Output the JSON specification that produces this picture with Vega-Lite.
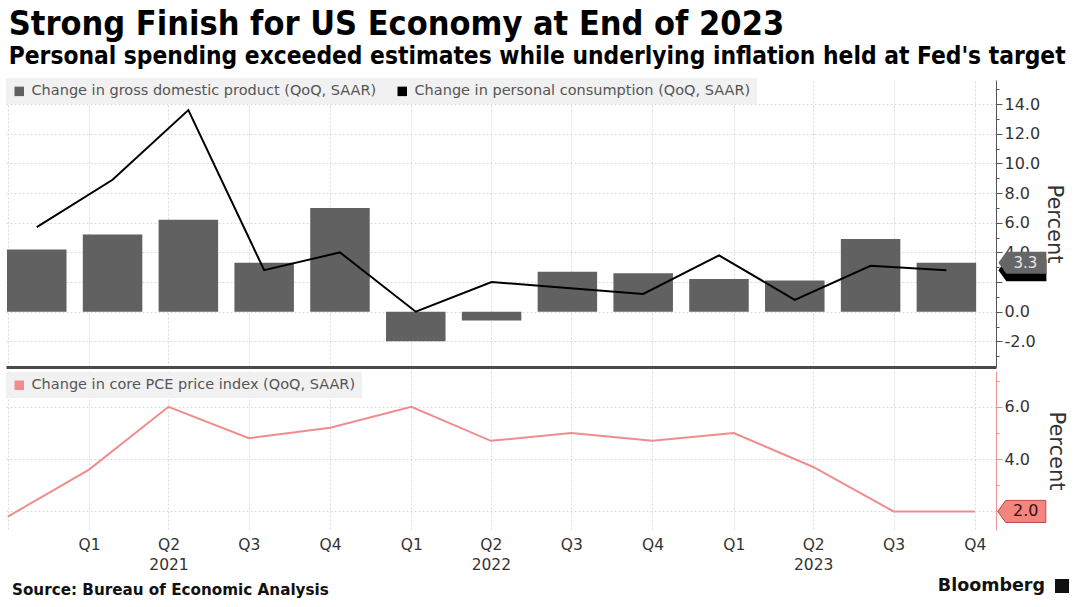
{
  "$schema": "https://vega.github.io/schema/vega-lite/v6.json",
  "background": "white",
  "padding": {"left": 3, "top": 7, "right": 0, "bottom": 0},
  "title": {
    "text": "Strong Finish for US Economy at End of 2023",
    "subtitle": "Personal spending exceeded estimates while underlying inflation held at Fed's target",
    "anchor": "start",
    "dx": 5,
    "font": "DejaVu Sans Condensed",
    "fontSize": 34,
    "fontWeight": "bold",
    "color": "#000000",
    "subtitleFont": "DejaVu Sans Condensed",
    "subtitleFontSize": 24.3,
    "subtitleFontWeight": "bold",
    "subtitleColor": "#000000",
    "subtitlePadding": 3,
    "offset": 9
  },
  "data": {
    "values": [
      {"date": "2020-10-01", "q": "2020 Q4", "gdp": 4.2, "cons": 5.7, "core": 1.8},
      {"date": "2021-01-01", "q": "2021 Q1", "gdp": 5.2, "cons": 8.9, "core": 3.6},
      {"date": "2021-04-01", "q": "2021 Q2", "gdp": 6.2, "cons": 13.6, "core": 6.0},
      {"date": "2021-07-01", "q": "2021 Q3", "gdp": 3.3, "cons": 2.8, "core": 4.8},
      {"date": "2021-10-01", "q": "2021 Q4", "gdp": 7.0, "cons": 4.0, "core": 5.2},
      {"date": "2022-01-01", "q": "2022 Q1", "gdp": -2.0, "cons": 0.0, "core": 6.0},
      {"date": "2022-04-01", "q": "2022 Q2", "gdp": -0.6, "cons": 2.0, "core": 4.7},
      {"date": "2022-07-01", "q": "2022 Q3", "gdp": 2.7, "cons": 1.6, "core": 5.0},
      {"date": "2022-10-01", "q": "2022 Q4", "gdp": 2.6, "cons": 1.2, "core": 4.7},
      {"date": "2023-01-01", "q": "2023 Q1", "gdp": 2.2, "cons": 3.8, "core": 5.0},
      {"date": "2023-04-01", "q": "2023 Q2", "gdp": 2.1, "cons": 0.8, "core": 3.7},
      {"date": "2023-07-01", "q": "2023 Q3", "gdp": 4.9, "cons": 3.1, "core": 2.0},
      {"date": "2023-10-01", "q": "2023 Q4", "gdp": 3.3, "cons": 2.8, "core": 2.0}
    ]
  },
  "spacing": 4,
  "resolve": {"scale": {"color": "independent"}, "legend": {"color": "independent"}},
  "vconcat": [
    {
      "width": 990,
      "height": 287,
      "resolve": {"scale": {"x": "independent"}, "axis": {"x": "independent"}},
      "layer": [
        {
          "mark": {"type": "point", "opacity": 0},
          "encoding": {
            "x": {
              "field": "date",
              "type": "temporal",
              "scale": {"domain": [{"year": 2020, "month": 9, "date": 29, "utc": true}, {"year": 2023, "month": 10, "date": 25, "utc": true}]},
              "axis": {
                "orient": "bottom",
                "title": null,
                "tickCount": 100,
                "values": [
                  {"year": 2020, "month": 10, "date": 1, "utc": true},
                  {"year": 2021, "month": 1, "date": 1, "utc": true},
                  {"year": 2021, "month": 4, "date": 1, "utc": true},
                  {"year": 2021, "month": 7, "date": 1, "utc": true},
                  {"year": 2021, "month": 10, "date": 1, "utc": true},
                  {"year": 2022, "month": 1, "date": 1, "utc": true},
                  {"year": 2022, "month": 4, "date": 1, "utc": true},
                  {"year": 2022, "month": 7, "date": 1, "utc": true},
                  {"year": 2022, "month": 10, "date": 1, "utc": true},
                  {"year": 2023, "month": 1, "date": 1, "utc": true},
                  {"year": 2023, "month": 4, "date": 1, "utc": true},
                  {"year": 2023, "month": 7, "date": 1, "utc": true},
                  {"year": 2023, "month": 10, "date": 1, "utc": true}
                ],
                "grid": true,
                "gridColor": "#dadada",
                "gridDash": [2, 2],
                "labels": false,
                "ticks": false,
                "domain": true,
                "domainColor": "#4a4a4a",
                "domainWidth": 3
              }
            }
          }
        },
        {
          "encoding": {
            "x": {
              "field": "q",
              "type": "ordinal",
              "scale": {"paddingInner": 0.215, "paddingOuter": 0.1375, "align": 0.048},
              "axis": null
            }
          },
          "layer": [
            {
              "mark": {"type": "bar", "color": "#616161"},
              "encoding": {
                "y": {
                  "field": "gdp",
                  "type": "quantitative",
                  "scale": {"domain": [-3.73, 15.63], "nice": false, "zero": false},
                  "axis": {
                    "orient": "right",
                    "title": "Percent",
                    "tickCount": 100,
                    "values": [-3, -2, -1, 0, 1, 2, 3, 4, 5, 6, 7, 8, 9, 10, 11, 12, 13, 14, 15],
                    "labelExpr": "datum.value % 2 == 0 && datum.value != 2 ? (datum.value < 0 ? '-' + format(-datum.value, '.1f') : format(datum.value, '.1f')) : ''",
                    "grid": true,
                    "gridColor": "#dadada",
                    "gridDash": [2, 2],
                    "gridOpacity": {"condition": {"test": "datum.value % 2 == 0", "value": 1}, "value": 0},
                    "tickSize": {"condition": {"test": "datum.value % 2 == 0", "value": 6}, "value": 3},
                    "tickColor": "#555555",
                    "domainColor": "#555555",
                    "labelColor": "#333333",
                    "labelFontSize": 16,
                    "labelPadding": 2,
                    "labelOverlap": false,
                    "titleFontSize": 21,
                    "titleFontWeight": "normal",
                    "titleColor": "#333333",
                    "titlePadding": 4
                  }
                },
                "color": {
                  "datum": "Change in gross domestic product (QoQ, SAAR)",
                  "type": "nominal",
                  "scale": {
                    "domain": ["Change in gross domestic product (QoQ, SAAR)", "Change in personal consumption (QoQ, SAAR)"],
                    "range": ["#616161", "#000000"]
                  },
                  "legend": {
                    "orient": "none",
                    "legendX": 0,
                    "legendY": -2,
                    "direction": "horizontal",
                    "title": null,
                    "symbolType": "square",
                    "symbolSize": 90,
                    "symbolStrokeWidth": 0,
                    "labelFontSize": 14.5,
                    "labelColor": "#555555",
                    "labelLimit": 600,
                    "fillColor": "#f1f1f1",
                    "padding": 6,
                    "columnPadding": 18,
                    "labelOffset": 5
                  }
                }
              }
            },
            {
              "mark": {"type": "line", "color": "#000000", "strokeWidth": 2},
              "encoding": {
                "y": {"field": "cons", "type": "quantitative", "scale": {"domain": [-3.73, 15.63], "nice": false, "zero": false}}
              }
            },
            {
              "transform": [{"filter": "datum.q == '2023 Q4'"}],
              "mark": {"type": "point", "shape": "M-1,0L-0.67,-0.46L1,-0.46L1,0.46L-0.67,0.46Z", "size": 2304, "filled": true, "color": "#000000", "opacity": 1, "xOffset": 76},
              "encoding": {
                "y": {"field": "cons", "type": "quantitative", "scale": {"domain": [-3.73, 15.63], "nice": false, "zero": false}}
              }
            },
            {
              "transform": [{"filter": "datum.q == '2023 Q4'"}],
              "mark": {"type": "point", "shape": "M-1,0L-0.67,-0.46L1,-0.46L1,0.46L-0.67,0.46Z", "size": 2304, "filled": true, "color": "#666666", "opacity": 1, "xOffset": 76},
              "encoding": {
                "y": {"field": "gdp", "type": "quantitative", "scale": {"domain": [-3.73, 15.63], "nice": false, "zero": false}}
              }
            },
            {
              "transform": [{"filter": "datum.q == '2023 Q4'"}],
              "mark": {"type": "text", "color": "#e4e4e4", "fontSize": 15, "xOffset": 79, "align": "center", "baseline": "middle"},
              "encoding": {
                "y": {"field": "gdp", "type": "quantitative", "scale": {"domain": [-3.73, 15.63], "nice": false, "zero": false}},
                "text": {"field": "gdp", "type": "quantitative", "format": ".1f"}
              }
            }
          ]
        }
      ]
    },
    {
      "width": 990,
      "height": 159,
      "layer": [
        {
          "mark": {"type": "line", "strokeWidth": 2},
          "encoding": {
            "x": {
              "field": "date",
              "type": "temporal",
              "scale": {"domain": [{"year": 2020, "month": 9, "date": 29, "utc": true}, {"year": 2023, "month": 10, "date": 25, "utc": true}]},
              "axis": {
                "orient": "bottom",
                "title": null,
                "tickCount": 100,
                "values": [
                  {"year": 2020, "month": 10, "date": 1, "utc": true},
                  {"year": 2021, "month": 1, "date": 1, "utc": true},
                  {"year": 2021, "month": 4, "date": 1, "utc": true},
                  {"year": 2021, "month": 7, "date": 1, "utc": true},
                  {"year": 2021, "month": 10, "date": 1, "utc": true},
                  {"year": 2022, "month": 1, "date": 1, "utc": true},
                  {"year": 2022, "month": 4, "date": 1, "utc": true},
                  {"year": 2022, "month": 7, "date": 1, "utc": true},
                  {"year": 2022, "month": 10, "date": 1, "utc": true},
                  {"year": 2023, "month": 1, "date": 1, "utc": true},
                  {"year": 2023, "month": 4, "date": 1, "utc": true},
                  {"year": 2023, "month": 7, "date": 1, "utc": true},
                  {"year": 2023, "month": 10, "date": 1, "utc": true}
                ],
                "labelExpr": "utcFormat(datum.value, '%Y') == '2020' ? '' : ['Q' + utcFormat(datum.value, '%q'), utcFormat(datum.value, '%q') == '2' ? utcFormat(datum.value, '%Y') : '']",
                "grid": true,
                "gridColor": "#dadada",
                "gridDash": [2, 2],
                "ticks": false,
                "domain": false,
                "labelColor": "#333333",
                "labelFontSize": 15.5,
                "labelLineHeight": 20,
                "labelPadding": 7,
                "labelOverlap": false,
                "labelFlush": false
              }
            },
            "y": {
              "field": "core",
              "type": "quantitative",
              "scale": {"domain": [1.29, 7.37], "nice": false, "zero": false},
              "axis": {
                "orient": "right",
                "title": "Percent",
                "tickCount": 100,
                "values": [2, 3, 4, 5, 6, 7],
                "labelExpr": "datum.value % 2 == 0 && datum.value != 2 ? format(datum.value, '.1f') : ''",
                "grid": true,
                "gridColor": "#dadada",
                "gridDash": [2, 2],
                "gridOpacity": {"condition": {"test": "datum.value % 2 == 0", "value": 1}, "value": 0},
                "tickSize": {"condition": {"test": "datum.value % 2 == 0", "value": 6}, "value": 3},
                "tickColor": "#f09090",
                "domainColor": "#f09090",
                "labelColor": "#333333",
                "labelFontSize": 16,
                "labelPadding": 2,
                "labelOverlap": false,
                "titleFontSize": 21,
                "titleFontWeight": "normal",
                "titleColor": "#333333",
                "titlePadding": 16
              }
            },
            "color": {
              "datum": "Change in core PCE price index (QoQ, SAAR)",
              "type": "nominal",
              "scale": {"range": ["#f08c8c"]},
              "legend": {
                "orient": "none",
                "legendX": 0,
                "legendY": 1,
                "title": null,
                "symbolType": "square",
                "symbolSize": 90,
                "labelFontSize": 14.5,
                "labelColor": "#555555",
                "labelLimit": 600,
                "fillColor": "#f1f1f1",
                "padding": 6,
                "labelOffset": 5,
                "encode": {"symbols": {"update": {"fill": {"value": "#f08c8c"}, "stroke": {"value": "#f08c8c"}, "strokeWidth": {"value": 0}}}}
              }
            }
          }
        },
        {
          "transform": [{"filter": "datum.q == '2023 Q4'"}],
          "mark": {"type": "point", "shape": "M-1,0L-0.67,-0.46L1,-0.46L1,0.46L-0.67,0.46Z", "size": 2304, "filled": true, "color": "#f2857e", "stroke": "#b84a45", "strokeWidth": 1, "opacity": 1, "xOffset": 47},
          "encoding": {
            "x": {"field": "date", "type": "temporal", "scale": {"domain": [{"year": 2020, "month": 9, "date": 29, "utc": true}, {"year": 2023, "month": 10, "date": 25, "utc": true}]}},
            "y": {"field": "core", "type": "quantitative", "scale": {"domain": [1.29, 7.37], "nice": false, "zero": false}}
          }
        },
        {
          "transform": [{"filter": "datum.q == '2023 Q4'"}],
          "mark": {"type": "text", "color": "#3a0c0c", "fontSize": 16, "xOffset": 51, "align": "center", "baseline": "middle"},
          "encoding": {
            "x": {"field": "date", "type": "temporal", "scale": {"domain": [{"year": 2020, "month": 9, "date": 29, "utc": true}, {"year": 2023, "month": 10, "date": 25, "utc": true}]}},
            "y": {"field": "core", "type": "quantitative", "scale": {"domain": [1.29, 7.37], "nice": false, "zero": false}},
            "text": {"field": "core", "type": "quantitative", "format": ".1f"}
          }
        }
      ]
    },
    {
      "width": 1056,
      "height": 20,
      "data": {
        "values": [
          {"role": "source", "t": "Source: Bureau of Economic Analysis"},
          {"role": "brand", "t": "Bloomberg"}
        ]
      },
      "encoding": {
        "x": {"field": "role", "type": "nominal", "scale": {"type": "point", "domain": ["source", "brand"], "padding": 0}, "axis": null}
      },
      "layer": [
        {
          "transform": [{"filter": "datum.role == 'source'"}],
          "mark": {"type": "text", "align": "left", "baseline": "middle", "dx": 6, "dy": 3, "font": "DejaVu Sans", "fontWeight": "bold", "fontSize": 15.2, "color": "#111111"},
          "encoding": {"text": {"field": "t", "type": "nominal"}}
        },
        {
          "transform": [{"filter": "datum.role == 'brand'"}],
          "mark": {"type": "text", "align": "right", "baseline": "middle", "dx": -17, "dy": -1, "font": "DejaVu Sans", "fontWeight": "bold", "fontSize": 17.5, "color": "#111111"},
          "encoding": {"text": {"field": "t", "type": "nominal"}}
        },
        {
          "transform": [{"filter": "datum.role == 'brand'"}],
          "mark": {"type": "point", "shape": "square", "filled": true, "size": 196, "color": "#111111", "opacity": 1, "yOffset": -1}
        }
      ]
    }
  ],
  "config": {
    "view": {"stroke": null},
    "font": "DejaVu Sans",
    "axis": {"labelFont": "DejaVu Sans", "titleFont": "DejaVu Sans"},
    "legend": {"labelFont": "DejaVu Sans"}
  }
}
